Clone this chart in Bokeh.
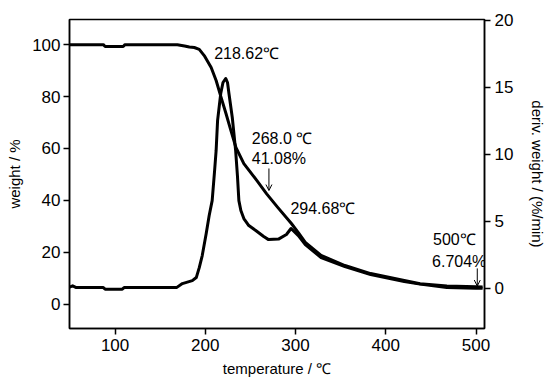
from bokeh.plotting import figure
from bokeh.models import Range1d, LinearAxis, FixedTicker, Arrow, OpenHead, Label
from bokeh.embed import file_html
from bokeh.resources import INLINE

# ---- data ----
tg_temp = [49.5, 87, 89, 109, 111, 169, 177, 182.3, 187.8, 193.3, 198.8, 206.5, 212, 217.5,
           222.9, 228.4, 233.9, 242.7, 257, 268, 280, 295.4, 303.1, 310.8, 328.3, 354.7, 383.2,
           420.5, 438, 467.7, 500, 507.3]
tg_weight = [100.0, 100.0, 99.3, 99.3, 100.0, 100.0, 99.5, 99.1, 98.9, 98.2, 95.8, 91.2, 86.2, 79.7,
             73.5, 66.9, 60.4, 54.2, 47.7, 42.5, 37.4, 31.1, 27.6, 23.8, 18.8, 14.9, 11.8,
             9.1, 7.9, 7.0, 6.704, 6.6]

dtg_temp = [49.5, 53, 57, 87, 89, 108, 110, 160, 168.1, 174.6, 185.6, 190.0, 193.3, 196.6, 201.0,
            204.3, 207.6, 210.3, 212.0, 213.6, 217.1, 219.6, 222.6, 224.6, 226.2, 229.9, 233.6,
            235.6, 237.2, 239.4, 242.7, 248.2, 255.9, 264.7, 270.1, 281.1, 289.9, 295.0, 303.1,
            310.8, 328.3, 354.7, 383.2, 420.5, 438, 467.7, 500, 507.3]
dtg_rate = [0.08, 0.18, 0.05, 0.05, -0.07, -0.07, 0.05, 0.05, 0.05, 0.35, 0.57, 0.80, 1.54, 2.44, 4.08,
            5.43, 6.54, 8.78, 10.28, 12.51, 14.53, 15.35, 15.65, 15.35, 14.53, 12.74, 10.28,
            8.41, 6.54, 5.80, 5.20, 4.68, 4.31, 3.86, 3.63, 3.67, 4.01, 4.46, 3.93,
            3.26, 2.29, 1.62, 1.02, 0.50, 0.31, 0.05, 0.0, 0.0]

x_ticks = [100, 200, 300, 400, 500]
left_ticks = [0, 20, 40, 60, 80, 100]
right_ticks = [0, 5, 10, 15, 20]

FONT = "Liberation Sans"

p = figure(width=549, height=380, output_backend="svg", toolbar_location=None,
           x_range=Range1d(49.5, 509.4), y_range=Range1d(-9.36, 109.7),
           min_border_left=69, min_border_right=61, min_border_top=19, min_border_bottom=52)
p.extra_y_ranges = {"dtg": Range1d(-3.0, 20.05)}
p.grid.visible = False
p.outline_line_color = "black"
p.outline_line_width = 1.5
p.background_fill_color = "white"
p.border_fill_color = "white"

p.line(tg_temp, tg_weight, line_color="black", line_width=3, line_join="round")
p.line(dtg_temp, dtg_rate, line_color="black", line_width=3, line_join="round", y_range_name="dtg")

right = LinearAxis(y_range_name="dtg")
p.add_layout(right, "right")

p.xaxis.ticker = FixedTicker(ticks=x_ticks)
p.yaxis[0].ticker = FixedTicker(ticks=left_ticks)
right.ticker = FixedTicker(ticks=right_ticks)

p.xaxis.axis_label = "temperature / ℃"
p.yaxis[0].axis_label = "weight / %"
right.axis_label = "deriv. weight / (%/min)"

for ax in [p.xaxis[0], p.yaxis[0], right]:
    ax.axis_line_width = 1.5
    ax.major_tick_line_width = 1.5
    ax.major_tick_in = 0
    ax.major_tick_out = 6
    ax.minor_tick_line_color = None
    ax.major_label_text_font = FONT
    ax.major_label_text_font_size = "17px"
    ax.major_label_text_color = "black"
    ax.axis_label_text_font = FONT
    ax.axis_label_text_font_size = "15px"
    ax.axis_label_text_font_style = "normal"
    ax.axis_label_text_color = "black"
    ax.major_label_standoff = 4
    ax.axis_label_standoff = 6
right.axis_label_standoff = 13
p.yaxis[0].major_label_standoff = 3

def lab(x, y, t):
    p.add_layout(Label(x=x, y=y, text=t, text_font=FONT, text_font_size="16px",
                       text_baseline="middle", text_align="left", text_color="black"))

lab(209.8, 96.6, "218.62℃")
lab(251.5, 63.9, "268.0 ℃")
lab(251.5, 56.1, "41.08%")
lab(294.3, 36.7, "294.68℃")
lab(452.4, 24.9, "500℃")
lab(451.3, 16.5, "6.704%")

p.add_layout(Arrow(end=OpenHead(size=6, line_width=1), x_start=270.5, y_start=52.3,
                   x_end=270.5, y_end=43.8, line_width=1))
p.add_layout(Arrow(end=OpenHead(size=6, line_width=1), x_start=501.4, y_start=13.8,
                   x_end=501.4, y_end=7.0, line_width=1))

open("out.html", "w").write(file_html(p, INLINE))
